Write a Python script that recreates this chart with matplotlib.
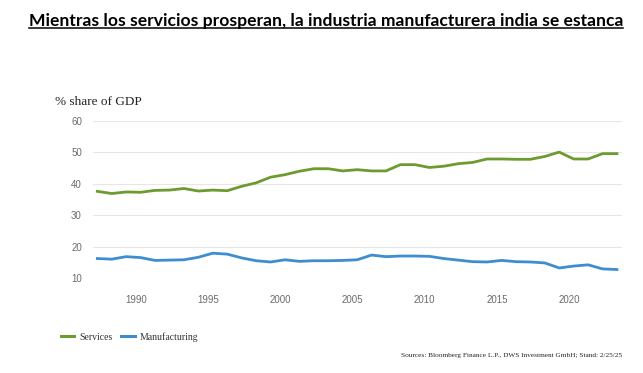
import matplotlib
matplotlib.use("Agg")
import matplotlib.pyplot as plt
import matplotlib.transforms as mtransforms
from matplotlib.lines import Line2D

years = list(range(1987, 2024))
services = [37.6, 36.9, 37.4, 37.3, 37.9, 38.0, 38.5, 37.7, 38.0, 37.8,
            39.2, 40.3, 42.1, 42.9, 44.0, 44.8, 44.8, 44.1, 44.5, 44.1,
            44.1, 46.1, 46.1, 45.2, 45.6, 46.4, 46.8, 47.9, 47.9, 47.8,
            47.8, 48.7, 50.1, 47.9, 47.9, 49.6, 49.6]
manufacturing = [16.2, 16.0, 16.8, 16.5, 15.6, 15.7, 15.8, 16.6, 17.9, 17.6,
                 16.4, 15.5, 15.1, 15.8, 15.3, 15.5, 15.5, 15.6, 15.8, 17.3,
                 16.8, 17.0, 17.0, 16.9, 16.2, 15.7, 15.2, 15.1, 15.6, 15.2,
                 15.1, 14.8, 13.2, 13.8, 14.2, 12.9, 12.7]
xticks = [1990, 1995, 2000, 2005, 2010, 2015, 2020]
yticks = [10, 20, 30, 40, 50, 60]

title = "Mientras los servicios prosperan, la industria manufacturera india se estanca"
ylabel = "% share of GDP"
source = "Sources: Bloomberg Finance L.P., DWS Investment GmbH; Stand: 2/25/25"

green = "#6E9B2F"
blue = "#3E8ECF"

W, H = 643, 373
fig = plt.figure(figsize=(W / 100, H / 100), dpi=100)
ax = fig.add_axes([93 / W, 1 - 278 / H, (622 - 93) / W, (278 - 121) / H])

ax.plot(years, services, color=green, lw=2.0, solid_joinstyle="round", label="Services")
ax.plot(years, manufacturing, color=blue, lw=2.0, solid_joinstyle="round", label="Manufacturing")

ax.set_ylim(10, 60)
ax.set_xlim(1986.7, 2023.35)
ax.set_yticks(yticks)
ax.set_xticks(xticks)
ax.grid(axis="y", color="#E6E6E6", lw=0.8)
ax.set_axisbelow(True)
for s in ax.spines.values():
    s.set_visible(False)
ax.tick_params(length=0, labelsize=7, labelcolor="#6B6B6B", pad=8)
ax.tick_params(axis="x", pad=12)
for lab in ax.get_xticklabels() + ax.get_yticklabels():
    lab.set_fontfamily("Liberation Sans")
offset = mtransforms.ScaledTranslation(-4.5 / 100, 0, fig.dpi_scale_trans)
for lab in ax.get_xticklabels():
    lab.set_transform(lab.get_transform() + offset)

fig.text(55 / W, 1 - 102 / H, ylabel, fontsize=9.5, family="Liberation Serif",
         color="#222222", va="center", ha="left")

# Title with underline
t = fig.text(326 / W, 1 - 21 / H, title, fontsize=12.6, fontweight="bold",
             family="Lato", ha="center", va="center", color="black")
fig.canvas.draw()
bb = t.get_window_extent(renderer=fig.canvas.get_renderer())
uy = (bb.y0 + 1.0) / H
fig.add_artist(Line2D([bb.x0 / W, bb.x1 / W], [uy, uy], color="black", lw=1.1,
                      transform=fig.transFigure))

# Legend
leg = fig.legend(handles=[Line2D([], [], color=green, lw=2.2), Line2D([], [], color=blue, lw=2.2)],
                 labels=["Services", "Manufacturing"], loc="center left",
                 bbox_to_anchor=(52 / W, 1 - 337 / H), ncol=2, frameon=False,
                 prop={"family": "Liberation Serif", "size": 7}, handlelength=1.4,
                 handletextpad=0.5, columnspacing=0.9)
for txt in leg.get_texts():
    txt.set_color("#333333")

fig.text(622 / W, 1 - 356 / H, source, fontsize=5.2, family="Liberation Serif",
         ha="right", va="center", color="#222222")

fig.savefig("out.png", dpi=100)
